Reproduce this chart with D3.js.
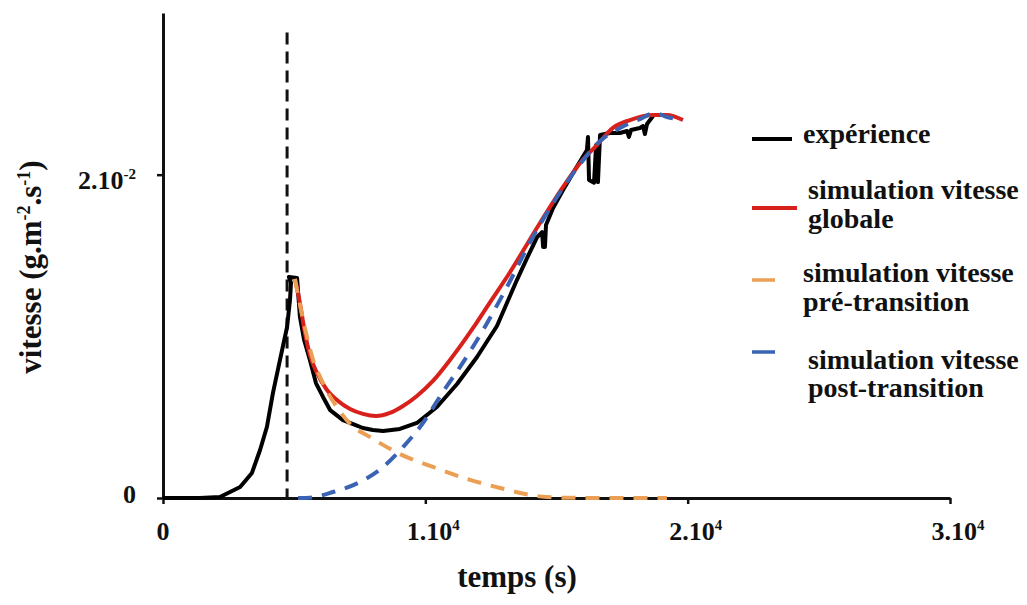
<!DOCTYPE html>
<html>
<head>
<meta charset="utf-8">
<script src="https://cdn.jsdelivr.net/npm/d3@7"></script>
<style>
  html, body { margin: 0; padding: 0; background: #fff; }
  svg { display: block; }
  text { font-family: "Liberation Serif", "Times New Roman", serif; font-weight: bold; fill: #111; }
</style>
</head>
<body>
<svg id="chart" width="1027" height="605"></svg>
<script>
// ---------- data ----------
// experience (measured rate), time in s, rate in g.m-2.s-1
const expT = [0, 1400, 2170, 2940, 3390, 3700, 3960, 4190, 4460, 4730, 4840, 4880, 4800, 5110, 5220, 5380, 5600, 5830, 6100, 6370, 6860, 7320, 7620, 8000, 8390, 9030, 9680, 10440, 11210, 11970, 12730, 13110, 13490, 13880, 14260, 14450, 14490, 14560, 14600, 14870, 15250, 15700, 16160, 16200, 16240, 16430, 16510, 16580, 16660, 17040, 17420, 17690, 17760, 17840, 18180, 18300, 18370, 18450, 18680];
const expV = [0, 0, 0.00006, 0.00068, 0.00155, 0.00297, 0.00439, 0.00649, 0.00854, 0.01058, 0.01225, 0.01330, 0.01367, 0.01361, 0.01120, 0.00977, 0.00854, 0.00711, 0.00625, 0.00544, 0.00482, 0.00452, 0.00433, 0.00421, 0.00414, 0.00427, 0.00464, 0.00563, 0.00705, 0.00872, 0.01064, 0.01206, 0.01348, 0.01485, 0.01614, 0.01645, 0.01553, 0.01553, 0.01689, 0.01794, 0.01905, 0.02029, 0.02152, 0.02233, 0.01967, 0.01950, 0.02183, 0.01954, 0.02245, 0.02258, 0.02258, 0.02270, 0.02233, 0.02276, 0.02289, 0.02301, 0.02251, 0.02313, 0.02363];

// simulation vitesse globale
const globT = [5030, 5220, 5410, 5600, 5870, 6250, 6630, 7130, 7620, 8120, 8650, 9150, 9680, 10290, 10940, 11820, 12470, 13110, 14370, 15250, 15900, 16540, 17150, 17800, 18680, 19210, 19820];
const globV = [0.01355, 0.01206, 0.01021, 0.00885, 0.00773, 0.00668, 0.00606, 0.00550, 0.00520, 0.00507, 0.00526, 0.00569, 0.00631, 0.00724, 0.00854, 0.01052, 0.01212, 0.01367, 0.01701, 0.01924, 0.02072, 0.02183, 0.02289, 0.02338, 0.02369, 0.02369, 0.02338];

// simulation vitesse pre-transition
const preT = [5030, 5220, 5490, 5720, 5990, 6290, 6630, 7130, 7890, 9030, 10290, 11590, 12850, 14260, 15400, 19210];
const preV = [0.01355, 0.01194, 0.00996, 0.00854, 0.00748, 0.00649, 0.00563, 0.00458, 0.00377, 0.00272, 0.00192, 0.00118, 0.00062, 0.00012, 0.00001, 0];

// simulation vitesse post-transition
const postT = [5150, 5600, 6480, 7510, 8390, 9150, 9910, 10670, 11320, 12200, 13110, 14100, 15020, 15900, 16660, 17420, 18180, 18750, 19210, 19820];
const postV = [0, 0.00002, 0.00037, 0.00099, 0.00192, 0.00315, 0.00464, 0.00656, 0.00810, 0.01039, 0.01305, 0.01614, 0.01862, 0.02066, 0.02208, 0.02289, 0.02344, 0.02381, 0.02357, 0.02338];

// transition marker
const transitionT = 4730;
const transitionTop = 0.0288;

// ticks
const xTicks = [0, 10000, 20000, 30000];
const xTickLabels = [["0", ""], ["1.10", "4"], ["2.10", "4"], ["3.10", "4"]];
const yTicks = [0, 0.02];
const yTickLabels = [["0", ""], ["2.10", "-2"]];

const legendItems = [
  { lines: ["expérience"], color: "#000000", kind: "solid" },
  { lines: ["simulation vitesse", "globale"], color: "#d9211c", kind: "solid" },
  { lines: ["simulation vitesse", "pré-transition"], color: "#eb9f55", kind: "dash" },
  { lines: ["simulation vitesse", "post-transition"], color: "#3b63b3", kind: "dash" }
];

// ---------- drawing ----------
const svg = d3.select("#chart");
const x = d3.scaleLinear().domain([0, 30000]).range([163, 950]);
const y = d3.scaleLinear().domain([0, 0.03]).range([498, 13]);

const zip = (ts, vs) => ts.map((t, i) => [t, vs[i]]);

// axes
const gx = svg.append("g").attr("transform", `translate(0,${y(0)})`)
  .call(d3.axisBottom(x).tickValues(xTicks).tickSize(6).tickSizeOuter(0).tickFormat(""));
const gy = svg.append("g").attr("transform", `translate(${x(0)},0)`)
  .call(d3.axisLeft(y).tickValues(yTicks).tickSize(6).tickSizeOuter(0).tickFormat(""));
[gx, gy].forEach(g => {
  g.select(".domain").attr("stroke", "#111").attr("stroke-width", 3);
  g.selectAll(".tick line").attr("stroke", "#111").attr("stroke-width", 2.5);
});

// x tick labels
xTicks.forEach((v, i) => {
  const t = svg.append("text")
    .attr("x", x(v) + (xTickLabels[i][1] ? 8 : 0))
    .attr("y", 540)
    .attr("text-anchor", "middle")
    .attr("font-size", 26);
  t.append("tspan").text(xTickLabels[i][0]);
  if (xTickLabels[i][1]) t.append("tspan").attr("dy", -10).attr("font-size", 15).text(xTickLabels[i][1]);
});

// y tick labels
yTicks.forEach((v, i) => {
  const t = svg.append("text")
    .attr("x", 136)
    .attr("y", y(v) + (yTickLabels[i][1] ? 14 : 5))
    .attr("text-anchor", "end")
    .attr("font-size", 26);
  t.append("tspan").text(yTickLabels[i][0]);
  if (yTickLabels[i][1]) t.append("tspan").attr("dy", -10).attr("font-size", 15).text(yTickLabels[i][1]);
});

// axis titles
svg.append("text").attr("x", 517).attr("y", 587).attr("text-anchor", "middle")
  .attr("font-size", 31).text("temps (s)");

const yt = svg.append("text").attr("transform", "translate(41,267) rotate(-90)")
  .attr("text-anchor", "middle").attr("font-size", 31);
yt.append("tspan").text("vitesse (g.m");
yt.append("tspan").attr("dy", -11).attr("font-size", 18).text("-2");
yt.append("tspan").attr("dy", 11).text(".s");
yt.append("tspan").attr("dy", -11).attr("font-size", 18).text("-1");
yt.append("tspan").attr("dy", 11).text(")");

// transition vertical dashed line
svg.append("line")
  .attr("x1", x(transitionT)).attr("x2", x(transitionT))
  .attr("y1", y(transitionTop)).attr("y2", y(0))
  .attr("stroke", "#111").attr("stroke-width", 3).attr("stroke-dasharray", "12,7");

const lineLin = d3.line().x(d => x(d[0])).y(d => y(d[1]));
const lineSmooth = d3.line().x(d => x(d[0])).y(d => y(d[1])).curve(d3.curveMonotoneX);

svg.append("path").attr("d", lineLin(zip(expT, expV)))
  .attr("fill", "none").attr("stroke", "#000").attr("stroke-width", 4).attr("stroke-linejoin", "round");
svg.append("path").attr("d", lineSmooth(zip(globT, globV)))
  .attr("fill", "none").attr("stroke", "#d9211c").attr("stroke-width", 4);
svg.append("path").attr("d", lineSmooth(zip(preT, preV)))
  .attr("fill", "none").attr("stroke", "#eb9f55").attr("stroke-width", 4).attr("stroke-dasharray", "14,10");
svg.append("path").attr("d", lineSmooth(zip(postT, postV)))
  .attr("fill", "none").attr("stroke", "#3b63b3").attr("stroke-width", 4).attr("stroke-dasharray", "14,10");

// legend
const legendLayout = [
  { lx1: 752, lx2: 792, ly: 139, tx: 803, ty: [143] },
  { lx1: 752, lx2: 797, ly: 208, tx: 808, ty: [199, 228] },
  { lx1: 752, lx2: 775, ly: 280, tx: 803, ty: [282, 311] },
  { lx1: 752, lx2: 775, ly: 352, tx: 808, ty: [369, 397] }
];
legendItems.forEach((it, i) => {
  const L = legendLayout[i];
  svg.append("line").attr("x1", L.lx1).attr("x2", L.lx2).attr("y1", L.ly).attr("y2", L.ly)
    .attr("stroke", it.color).attr("stroke-width", it.kind === "solid" ? 4 : 3.5);
  it.lines.forEach((s, j) => {
    svg.append("text").attr("x", L.tx).attr("y", L.ty[j]).attr("font-size", 28).text(s);
  });
});
</script>
</body>
</html>
